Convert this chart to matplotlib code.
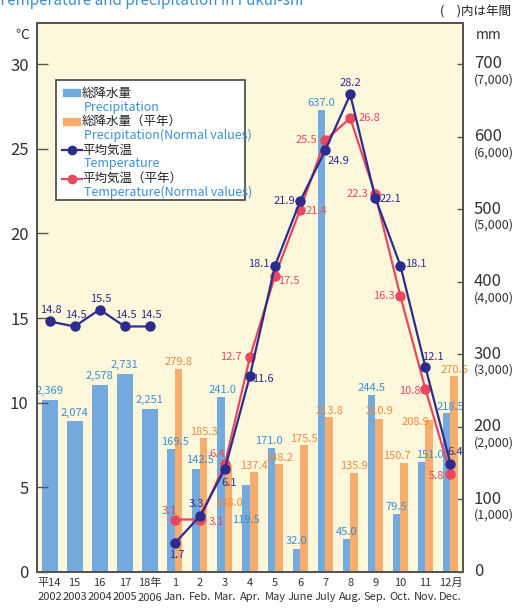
import matplotlib
matplotlib.use("Agg")
from matplotlib import pyplot as plt
import matplotlib.patches as patches
from matplotlib.lines import Line2D

plt.rcParams['font.family'] = ['Noto Sans CJK JP', 'DejaVu Sans']

# data
year_labels = ['平14\n2002', '15\n2003', '16\n2004', '17\n2005', '18年\n2006']
month_labels = ['1\nJan.', '2\nFeb.', '3\nMar.', '4\nApr.', '5\nMay', '6\nJune', '7\nJuly',
                '8\nAug.', '9\nSep.', '10\nOct.', '11\nNov.', '12月\nDec.']
year_precip = [2369, 2074, 2578, 2731, 2251]
year_temp = [14.8, 14.5, 15.5, 14.5, 14.5]
month_precip = [169.5, 142.5, 241.0, 119.5, 171.0, 32.0, 637.0, 45.0, 244.5, 79.5, 151.0, 218.5]
month_precip_norm = [279.8, 185.3, 148.0, 137.4, 148.2, 175.5, 213.8, 135.9, 210.9, 150.7, 208.9, 270.6]
month_temp = [1.7, 3.3, 6.1, 11.6, 18.1, 21.9, 24.9, 28.2, 22.1, 18.1, 12.1, 6.4]
month_temp_norm = [3.1, 3.1, 6.4, 12.7, 17.5, 21.4, 25.5, 26.8, 22.3, 16.3, 10.8, 5.8]

# label offsets in pixels (dx, dy)
off_temp = [(2, -12), (-4, 12), (4, -14), (13, -3), (-16, 2), (-16, 0), (13, -11),
            (0, 11), (15, -1), (15, 2), (7, 10), (5, 12)]
off_temp_norm = [(-5, 9), (16, -2), (-8, 10), (-19, 0), (14, -5), (16, -1), (-19, 0),
                 (19, 0), (-18, 0), (-16, 0), (-16, -2), (-14, -2)]
off_prec = [(4, 7), (4, 9), (1, 7), (0, -35), (-2, 7), (0, 8), (0, 7), (0, 7),
            (0, 7), (0, 7), (8, 7), (4, 6)]
off_prec_norm = [(0, 7), (0, 6), (0, -38), (0, 6), (0, 6), (0, 6), (0, 6), (0, 7),
                 (0, 8), (-7, 7), (-14, -2), (0, 6)]

BLUE = '#74aadd'
ORANGE = '#f7ad6e'
NAVY = '#2c2c8e'
RED = '#e9475f'
TBLUE = '#3d8fd6'
TORANGE = '#f08a3c'
BG = '#fdf8dc'

W, H = 527, 615
fig = plt.figure(figsize=(W / 100, H / 100), dpi=100)
ax = fig.add_axes([37 / W, 43 / H, 426 / W, 549 / H])
ax.set_facecolor(BG)
tmax = 30 + 41 / (508 / 30)
pmax = tmax * 700 / 30
ax.set_ylim(0, pmax)
ax.set_xlim(-0.5, 16.5)

yx = list(range(5))
mx = [5 + i for i in range(12)]

ax.bar(yx, [p / 10 for p in year_precip], width=0.64, color=BLUE, zorder=2)
ax.bar([x - 0.15 for x in mx], month_precip, width=0.3, color=BLUE, zorder=2)
ax.bar([x + 0.15 for x in mx], month_precip_norm, width=0.3, color=ORANGE, zorder=2)

lf = dict(fontsize=8, ha='center', va='center', textcoords='offset pixels', zorder=6)
for x, p in zip(yx, year_precip):
    ax.annotate(f'{p:,}', (x, p / 10), xytext=(0, 9), color=TBLUE, **lf)
for x, p, o in zip(mx, month_precip, off_prec):
    ax.annotate(f'{p:.1f}', (x - 0.15, p), xytext=o, color=TBLUE, **lf)
for x, p, o in zip(mx, month_precip_norm, off_prec_norm):
    ax.annotate(f'{p:.1f}', (x + 0.15, p), xytext=o, color=TORANGE, **lf)

# x tick labels
ax.set_xticks(yx + mx)
ax.set_xticklabels(year_labels + month_labels, fontsize=8, color='#333333', linespacing=1.6)
ax.tick_params(axis='x', length=0, pad=4)

# temperature axis
at = ax.twinx()
at.set_ylim(0, tmax)
at.plot(mx, month_temp_norm, color=RED, lw=1.6, marker='o', ms=6.5, zorder=4)
at.plot(mx, month_temp, color=NAVY, lw=1.6, marker='o', ms=6.5, zorder=5)
at.plot(yx, year_temp, color=NAVY, lw=1.6, marker='o', ms=6.5, zorder=5)
for x, t in zip(yx, year_temp):
    at.annotate(f'{t}', (x, t), xytext=(1, 11), color=NAVY, **lf)
for x, t, o in zip(mx, month_temp, off_temp):
    at.annotate(f'{t}', (x, t), xytext=o, color=NAVY, **lf)
for x, t, o in zip(mx, month_temp_norm, off_temp_norm):
    at.annotate(f'{t}', (x, t), xytext=o, color=RED, **lf)

# axes styling
for a in (ax, at):
    for s in a.spines.values():
        s.set_color('#555555')
        s.set_linewidth(1.4)
at.yaxis.tick_left()
at.set_yticks([0, 5, 10, 15, 20, 25, 30])
at.tick_params(axis='y', direction='in', length=8, width=1, color='#555555',
               labelsize=12, pad=6, labelcolor='#333333')
ax.yaxis.tick_right()
ax.set_yticks(range(0, 701, 100))
ax.set_yticklabels([])
ax.tick_params(axis='y', direction='in', length=4, width=1, color='#555555')
for v in range(0, 701, 100):
    ax.text(1.025, v, f'{v}', transform=ax.get_yaxis_transform(), fontsize=12,
            color='#333333', va='center', ha='left')
    if v > 0:
        ax.text(1.025, v - 22, f'({v * 10:,})', transform=ax.get_yaxis_transform(),
                fontsize=9, color='#333333', va='center', ha='left')

# legend
fig.patches.append(patches.Rectangle((56 / W, 1 - 200 / H), 189 / W, 120 / H,
                                     transform=fig.transFigure, facecolor='white',
                                     edgecolor='#444444', lw=1.2, zorder=10))
leg_rows = [('総降水量', 'Precipitation', 'bar', BLUE),
            ('総降水量（平年）', 'Precipitation(Normal values)', 'bar', ORANGE),
            ('平均気温', 'Temperature', 'line', NAVY),
            ('平均気温（平年）', 'Temperature(Normal values)', 'line', RED)]
for i, (jp, en, kind, c) in enumerate(leg_rows):
    y1 = 1 - (93 + 28.5 * i) / H
    y2 = 1 - (107 + 28.5 * i) / H
    if kind == 'bar':
        fig.patches.append(patches.Rectangle((63 / W, y1 - 3 / H), 17 / W, 7 / H,
                                             transform=fig.transFigure, color=c, zorder=11))
    else:
        fig.lines.append(Line2D([62 / W, 82 / W], [y1, y1], transform=fig.transFigure,
                                color=c, lw=1.6, zorder=11))
        fig.lines.append(Line2D([72 / W], [y1], transform=fig.transFigure, color=c,
                                marker='o', ms=6, zorder=12))
    fig.text(82 / W, y1, jp, fontsize=9, color='#222222', va='center', ha='left', zorder=12)
    fig.text(84 / W, y2, en, fontsize=9, color=TBLUE, va='center', ha='left', zorder=12)

# headers
fig.text(-2 / W, 1 - 5 / H, 'Temperature and precipitation in Fukui-shi', fontsize=11,
         color=TBLUE, va='baseline', ha='left')
fig.text(511 / W, 1 - 12 / H, '(\u3000)内は年間', fontsize=9, color='#222222',
         va='center', ha='right')
fig.text(22 / W, 1 - 35 / H, '℃', fontsize=10, color='#333333', va='center', ha='center')
fig.text(489 / W, 1 - 35 / H, 'mm', fontsize=10, color='#333333', va='center', ha='center')

fig.savefig('out.png', dpi=100, facecolor='white')
